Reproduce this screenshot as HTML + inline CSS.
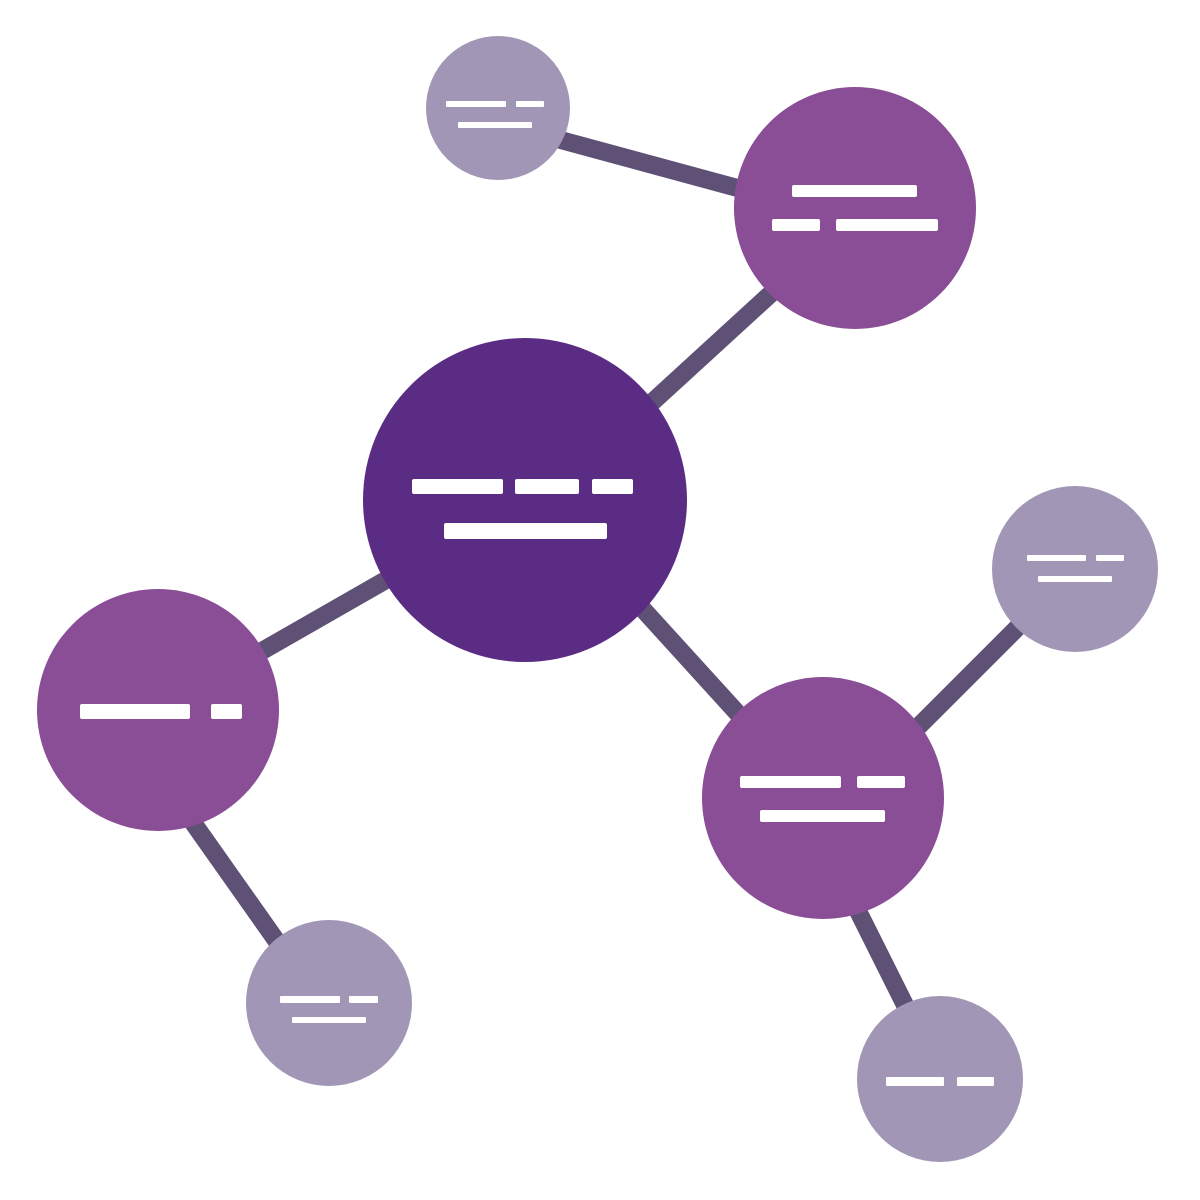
<!DOCTYPE html>
<html><head><style>html,body{margin:0;padding:0;background:#fff}svg{display:block}</style></head>
<body>
<svg width="1200" height="1200" viewBox="0 0 1200 1200">
<g stroke="#5f5175" stroke-width="18">
<line x1="520" y1="129" x2="800" y2="205"/>
<line x1="600" y1="450" x2="800" y2="267"/>
<line x1="400" y1="572" x2="220" y2="675"/>
<line x1="170" y1="790" x2="290" y2="960"/>
<line x1="610" y1="573" x2="760" y2="738"/>
<line x1="880" y1="765" x2="1040" y2="605"/>
<line x1="835" y1="865" x2="915" y2="1025"/>
</g>
<circle cx="525" cy="500" r="162" fill="#5b2c84"/>
<circle cx="855" cy="208" r="121" fill="#8a4e96"/>
<circle cx="158" cy="710" r="121" fill="#8a4e96"/>
<circle cx="823" cy="798" r="121" fill="#8a4e96"/>
<circle cx="498" cy="108" r="72" fill="#a196b6"/>
<circle cx="329" cy="1003" r="83" fill="#a196b6"/>
<circle cx="1075" cy="569" r="83" fill="#a196b6"/>
<circle cx="940" cy="1079" r="83" fill="#a196b6"/>
<g fill="#fff">
<rect x="412" y="479" width="91" height="15" rx="2"/>
<rect x="515" y="479" width="64" height="15" rx="2"/>
<rect x="592" y="479" width="41" height="15" rx="2"/>
<rect x="444" y="523" width="163" height="16" rx="2"/>
<rect x="792" y="185" width="125" height="12" rx="2"/>
<rect x="772" y="219" width="48" height="12" rx="2"/>
<rect x="836" y="219" width="102" height="12" rx="2"/>
<rect x="446" y="101" width="60" height="6" rx="1"/>
<rect x="516" y="101" width="28" height="6" rx="1"/>
<rect x="458" y="122" width="74" height="6" rx="1"/>
<rect x="80" y="704" width="110" height="15" rx="2"/>
<rect x="211" y="704" width="31" height="15" rx="2"/>
<rect x="280" y="996" width="60" height="7" rx="1"/>
<rect x="349" y="996" width="29" height="7" rx="1"/>
<rect x="292" y="1017" width="74" height="6" rx="1"/>
<rect x="740" y="776" width="101" height="12" rx="2"/>
<rect x="857" y="776" width="48" height="12" rx="2"/>
<rect x="760" y="810" width="125" height="12" rx="2"/>
<rect x="1027" y="555" width="59" height="6" rx="1"/>
<rect x="1096" y="555" width="28" height="6" rx="1"/>
<rect x="1038" y="576" width="74" height="6" rx="1"/>
<rect x="886" y="1077" width="58" height="9" rx="1"/>
<rect x="957" y="1077" width="37" height="9" rx="1"/>
</g>
</svg>
</body></html>
